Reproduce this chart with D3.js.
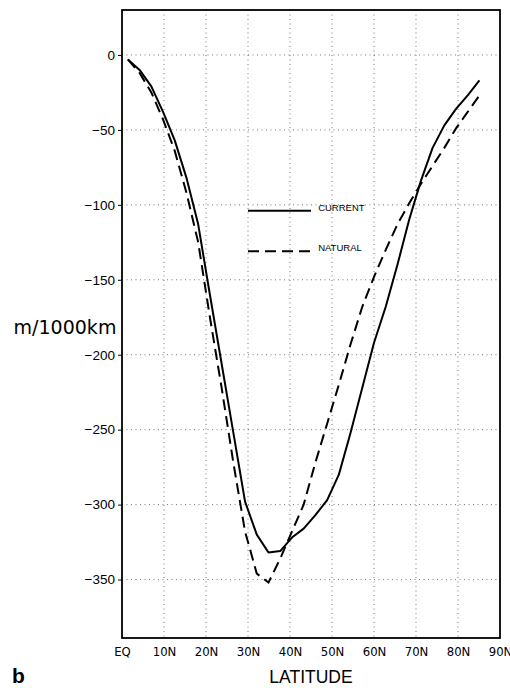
<!DOCTYPE html>
<html>
<head>
<meta charset="utf-8">
<script src="https://cdn.jsdelivr.net/npm/d3@7"></script>
<style>
  html, body { margin: 0; padding: 0; background: #fff; overflow: hidden; }
  svg { display: block; }
</style>
</head>
<body>
<svg id="chart" width="510" height="688"></svg>
<script>
// Latitudes of the model grid (deg N)
const latitudes = [1.4, 4.19, 6.98, 9.77, 12.56, 15.35, 18.14, 20.93, 23.72, 26.51,
    29.3, 32.09, 34.88, 37.67, 40.46, 43.25, 46.04, 48.84, 51.63, 54.42,
    57.21, 60.0, 62.79, 65.58, 68.37, 71.16, 73.95, 76.74, 79.53, 82.31, 85.1];

const current = [-3, -10, -21, -38, -57, -82, -113, -160, -206, -252,
    -298, -320, -332, -331, -322, -316, -307, -297, -280, -252,
    -222, -192, -168, -140, -110, -84, -62, -47, -36, -27, -17];

const natural = [-3, -12, -25, -43, -64, -92, -125, -175, -222, -272,
    -318, -346, -352, -336, -318, -300, -272, -246, -220, -193,
    -168, -148, -130, -113, -99, -86, -74, -62, -49, -38, -27];

const xTicks = [0, 10, 20, 30, 40, 50, 60, 70, 80, 90];
const xTickLabels = ["EQ", "10N", "20N", "30N", "40N", "50N", "60N", "70N", "80N", "90N"];
const yTicks = [0, -50, -100, -150, -200, -250, -300, -350];

const seriesNames = ["CURRENT", "NATURAL"];

const svg = d3.select("#chart");
const width = +svg.attr("width");
const height = +svg.attr("height");

const margin = { top: 10, right: 10, bottom: 50, left: 122 };
const innerWidth = width - margin.left - margin.right;
const innerHeight = height - margin.top - margin.bottom;

const g = svg.append("g")
    .attr("transform", `translate(${margin.left},${margin.top})`);

const x = d3.scaleLinear().domain([0, 90]).range([0, innerWidth]);
const y = d3.scaleLinear().domain([-389, 30]).range([innerHeight, 0]);

// dotted grid
g.append("g")
    .selectAll("line")
    .data(xTicks.slice(1, -1))
    .join("line")
    .attr("x1", d => x(d)).attr("x2", d => x(d))
    .attr("y1", 0).attr("y2", innerHeight)
    .attr("stroke", "#777")
    .attr("stroke-width", 1)
    .attr("stroke-dasharray", "1,3.5");

g.append("g")
    .selectAll("line")
    .data(yTicks)
    .join("line")
    .attr("x1", 0).attr("x2", innerWidth)
    .attr("y1", d => y(d)).attr("y2", d => y(d))
    .attr("stroke", "#777")
    .attr("stroke-width", 1)
    .attr("stroke-dasharray", "1,3.5");

// y axis
const yAxis = g.append("g")
    .call(d3.axisLeft(y).tickValues(yTicks).tickSize(4).tickPadding(3));
yAxis.select(".domain").remove();
yAxis.selectAll("text")
    .attr("font-family", "Liberation Sans, Arial, sans-serif")
    .attr("font-size", 13.5)
    .attr("fill", "#000");

// x axis labels
const xAxis = g.append("g")
    .attr("transform", `translate(0,${innerHeight})`)
    .call(d3.axisBottom(x).tickValues(xTicks).tickFormat((d, i) => xTickLabels[i]).tickSize(0).tickPadding(9));
xAxis.select(".domain").remove();
xAxis.selectAll("text")
    .attr("font-family", "Liberation Sans Narrow, Arial Narrow, DejaVu Sans Condensed, sans-serif")
    .attr("font-size", 13)
    .attr("fill", "#000");

// curves
const line = d3.line()
    .x((d, i) => x(latitudes[i]))
    .y(d => y(d));

g.append("path")
    .datum(current)
    .attr("fill", "none")
    .attr("stroke", "#000")
    .attr("stroke-width", 2)
    .attr("stroke-linejoin", "round")
    .attr("d", line);

g.append("path")
    .datum(natural)
    .attr("fill", "none")
    .attr("stroke", "#000")
    .attr("stroke-width", 2)
    .attr("stroke-dasharray", "11,6")
    .attr("d", line);

// legend
const legend = g.append("g");
const legendY = [-104, -131];
legend.selectAll("line")
    .data(seriesNames)
    .join("line")
    .attr("x1", x(30)).attr("x2", x(45))
    .attr("y1", (d, i) => y(legendY[i])).attr("y2", (d, i) => y(legendY[i]))
    .attr("stroke", "#000")
    .attr("stroke-width", 2)
    .attr("stroke-dasharray", (d, i) => i === 0 ? null : "11,6");
legend.selectAll("text")
    .data(seriesNames)
    .join("text")
    .attr("x", x(46.7))
    .attr("y", (d, i) => y(legendY[i]))
    .attr("font-family", "Liberation Sans, Arial, sans-serif")
    .attr("font-size", 9.5)
    .attr("fill", "#000")
    .text(d => d);

// frame
g.append("rect")
    .attr("width", innerWidth)
    .attr("height", innerHeight)
    .attr("fill", "none")
    .attr("stroke", "#000")
    .attr("stroke-width", 1.8);

// titles
svg.append("text")
    .attr("x", 65)
    .attr("y", margin.top + y(-186))
    .attr("text-anchor", "middle")
    .attr("font-family", "DejaVu Sans, sans-serif")
    .attr("font-size", 19)
    .attr("fill", "#000")
    .text("m/1000km");

svg.append("text")
    .attr("x", margin.left + innerWidth / 2)
    .attr("y", 683)
    .attr("text-anchor", "middle")
    .attr("font-family", "Liberation Sans, Arial, sans-serif")
    .attr("font-size", 17.5)
    .attr("fill", "#000")
    .text("LATITUDE");

svg.append("text")
    .attr("x", 12)
    .attr("y", 683)
    .attr("font-family", "Liberation Sans, Arial, sans-serif")
    .attr("font-size", 21)
    .attr("font-weight", "bold")
    .attr("fill", "#000")
    .text("b");
</script>
</body>
</html>
